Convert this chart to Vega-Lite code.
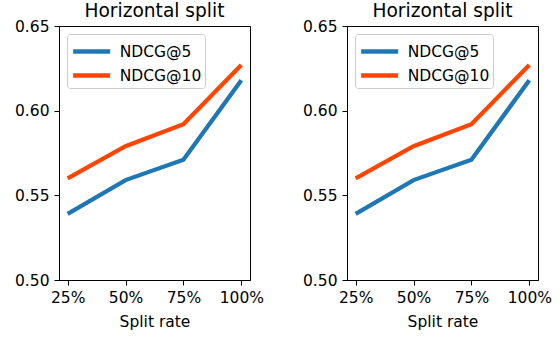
{
  "$schema": "https://vega.github.io/schema/vega-lite/v6.json",
  "padding": {"left": 13, "top": 1, "right": 5, "bottom": 2},
  "datasets": {
    "ndcg": [
      {"rate": 25, "metric": "NDCG@5", "value": 0.539},
      {"rate": 50, "metric": "NDCG@5", "value": 0.559},
      {"rate": 75, "metric": "NDCG@5", "value": 0.571},
      {"rate": 100, "metric": "NDCG@5", "value": 0.618},
      {"rate": 25, "metric": "NDCG@10", "value": 0.560},
      {"rate": 50, "metric": "NDCG@10", "value": 0.579},
      {"rate": 75, "metric": "NDCG@10", "value": 0.592},
      {"rate": 100, "metric": "NDCG@10", "value": 0.627}
    ]
  },
  "spacing": 97,
  "bounds": "flush",
  "resolve": {"scale": {"color": "independent"}, "legend": {"color": "independent"}},
  "hconcat": [
    {
      "width": 191,
      "height": 254,
      "title": "Horizontal split",
      "data": {"name": "ndcg"},
      "mark": {"type": "line", "strokeWidth": 4.3},
      "encoding": {
        "x": {"field": "rate", "type": "quantitative", "title": "Split rate",
              "scale": {"domain": [21.25, 103.75], "nice": false, "zero": false},
              "axis": {"values": [25, 50, 75, 100], "labelExpr": "datum.value + '%'"}},
        "y": {"field": "value", "type": "quantitative", "title": null,
              "scale": {"domain": [0.5, 0.65], "nice": false, "zero": false},
              "axis": {"values": [0.5, 0.55, 0.6, 0.65], "format": ".2f"}},
        "color": {"field": "metric", "type": "nominal", "title": null,
                  "scale": {"domain": ["NDCG@5", "NDCG@10"], "range": ["#1f77b4", "#ff4500"]},
                  "legend": {"orient": "top-left"}}
      }
    },
    {
      "width": 191,
      "height": 254,
      "title": "Horizontal split",
      "data": {"name": "ndcg"},
      "mark": {"type": "line", "strokeWidth": 4.3},
      "encoding": {
        "x": {"field": "rate", "type": "quantitative", "title": "Split rate",
              "scale": {"domain": [21.25, 103.75], "nice": false, "zero": false},
              "axis": {"values": [25, 50, 75, 100], "labelExpr": "datum.value + '%'"}},
        "y": {"field": "value", "type": "quantitative", "title": null,
              "scale": {"domain": [0.5, 0.65], "nice": false, "zero": false},
              "axis": {"values": [0.5, 0.55, 0.6, 0.65], "format": ".2f"}},
        "color": {"field": "metric", "type": "nominal", "title": null,
                  "scale": {"domain": ["NDCG@5", "NDCG@10"], "range": ["#1f77b4", "#ff4500"]},
                  "legend": {"orient": "top-left"}}
      }
    }
  ],
  "config": {
    "font": "DejaVu Sans",
    "view": {"stroke": "black", "strokeWidth": 1},
    "title": {"fontSize": 18.6, "fontWeight": "normal", "font": "DejaVu Sans", "color": "black", "baseline": "alphabetic", "offset": -2},
    "axis": {
      "grid": false,
      "domainColor": "black",
      "tickColor": "black",
      "tickSize": 5,
      "labelColor": "black",
      "labelFontSize": 15.5,
      "labelFont": "DejaVu Sans",
      "titleFont": "DejaVu Sans",
      "titleFontSize": 15.5,
      "titleFontWeight": "normal",
      "titleColor": "black"
    },
    "axisX": {"labelPadding": 5, "titlePadding": 9, "labelFlush": false},
    "axisY": {"labelPadding": 5},
    "legend": {
      "offset": 8,
      "padding": 3,
      "strokeColor": "#cccccc",
      "fillColor": "rgba(255,255,255,0.8)",
      "cornerRadius": 3,
      "symbolType": "M-1.5,0H1.5",
      "symbolSize": 609,
      "symbolOffset": 7.15,
      "symbolStrokeWidth": 4.3,
      "symbolFillColor": "transparent",
      "labelFontSize": 15.5,
      "labelFont": "DejaVu Sans",
      "labelColor": "black",
      "labelOffset": 13.6,
      "labelExpr": "datum.label + '\u2003\u2009'",
      "rowPadding": 0
    }
  }
}
